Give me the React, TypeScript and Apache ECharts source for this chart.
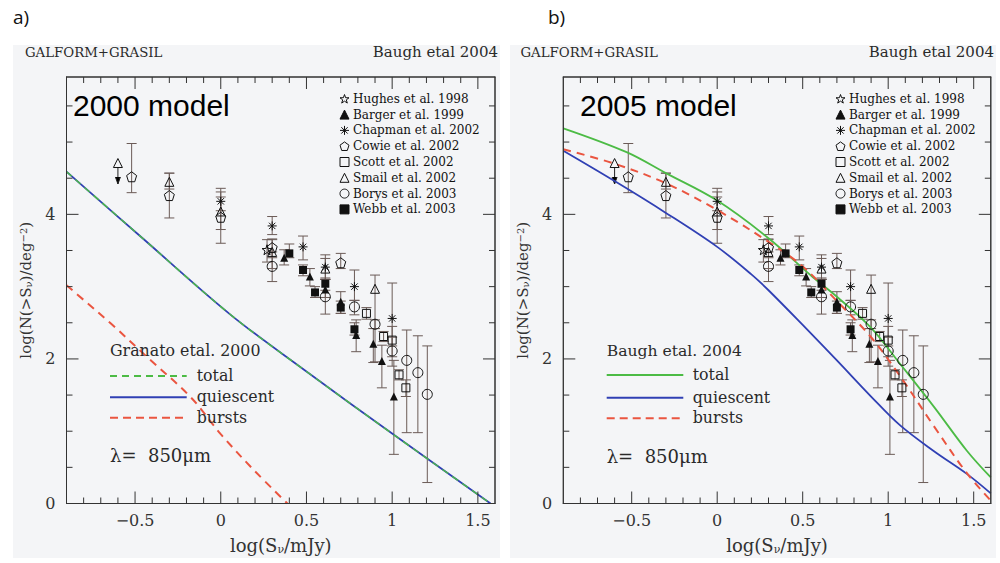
import React, { useEffect, useRef } from 'react';
import * as echarts from 'echarts';

// ---- axis ticks ----
const X_MAJOR = [-0.5, 0, 0.5, 1, 1.5];
const X_MINOR = [-0.8, -0.7, -0.6, -0.4, -0.3, -0.2, -0.1, 0.1, 0.2, 0.3, 0.4, 0.6, 0.7, 0.8, 0.9, 1.1, 1.2, 1.3, 1.4];
const Y_MAJOR = [0, 2, 4];
const Y_MINOR = [0.5, 1, 1.5, 2.5, 3, 3.5, 4.5, 5, 5.5];

// ---- observations: [logS, logN, low, high] ----
const HUGHES = [[0.27, 3.51, 3.34, 3.65]];
const BARGER = [
  [0.37, 3.40, 3.30, 3.51], [0.52, 3.14, 3.01, 3.25], [0.61, 2.96, 2.85, 3.10], [0.70, 2.79, 2.63, 2.93],
  [0.79, 2.33, 2.10, 2.54], [0.89, 2.21, 1.95, 2.42], [0.94, 1.97, 1.60, 2.19], [1.01, 1.48, 0.68, 1.98],
];
const CHAPMAN = [
  [0.0, 4.18, 4.05, 4.31], [0.30, 3.84, 3.72, 3.97], [0.48, 3.55, 3.37, 3.70], [0.61, 3.27, 3.10, 3.44],
  [0.78, 3.00, 2.81, 3.23], [1.0, 2.56, 2.18, 3.05],
];
const COWIE = [
  [-0.52, 4.52, 4.30, 4.98], [-0.30, 4.26, 3.95, 4.57], [0.0, 3.96, 3.60, 4.36], [0.30, 3.54, 3.40, 3.66],
  [0.70, 3.33, 3.25, 3.46],
];
const SCOTT = [
  [0.85, 2.63, 2.55, 2.71], [0.95, 2.31, 2.24, 2.38], [1.0, 2.26, 2.03, 2.45], [1.04, 1.78, 1.71, 1.85],
  [1.08, 1.60, 1.48, 1.71],
];
const SMAIL = [
  [-0.30, 4.45, 4.35, 4.57], [0.0, 4.04, 3.79, 4.24], [0.30, 3.48, 3.25, 3.65], [0.61, 3.25, 3.10, 3.39],
  [0.90, 2.97, 1.96, 3.16],
];
const SMAIL_LIMIT = [[-0.60, 4.71, 4.42]];
const BORYS = [
  [0.30, 3.28, 3.07, 3.48], [0.61, 2.86, 2.62, 3.10], [0.78, 2.72, 2.61, 2.81], [0.90, 2.48, 2.42, 2.54],
  [1.0, 2.11, 1.90, 2.30], [1.085, 1.98, 0.98, 2.40], [1.15, 1.81, 0.98, 2.32], [1.205, 1.51, 0.29, 2.18],
];
const WEBB = [
  [0.40, 3.46, 3.40, 3.59], [0.48, 3.23, 3.15, 3.30], [0.55, 2.92, 2.85, 3.00], [0.61, 3.04, 2.95, 3.12],
  [0.70, 2.71, 2.63, 2.80], [0.78, 2.41, 2.33, 2.50],
];

// ---- models ----
const A_QUIESCENT = [[-0.9, 4.59], [-0.466, 3.69], [0.058, 2.61], [0.486, 1.85], [1.01, 0.95], [1.574, 0]];
const A_TOTAL = [[-0.9, 4.59], [-0.466, 3.69], [0.058, 2.61], [0.486, 1.85], [1.01, 0.95], [1.574, 0]];
const A_BURSTS = [[-0.9, 3.02], [-0.797, 2.81], [-0.641, 2.49], [-0.427, 2.02], [-0.175, 1.47], [0.0, 0.96], [0.194, 0.46], [0.389, 0]];
const B_TOTAL = [[-0.9, 5.19], [-0.53, 4.86], [-0.3, 4.57], [0, 4.19], [0.3, 3.67], [0.56, 3.13], [0.7, 2.86], [0.9, 2.43], [1.07, 1.93], [1.27, 1.33], [1.46, 0.73], [1.6, 0.36]];
const B_QUIESCENT = [[-0.9, 4.88], [-0.6, 4.46], [-0.3, 4.02], [0, 3.55], [0.2, 3.17], [0.3, 2.95], [0.5, 2.47], [0.7, 1.98], [0.9, 1.48], [1.07, 1.08], [1.27, 0.72], [1.46, 0.41], [1.6, 0.14]];
const B_BURSTS = [[-0.9, 4.90], [-0.6, 4.70], [-0.3, 4.43], [0, 4.06], [0.3, 3.62], [0.5, 3.28], [0.7, 2.80], [0.9, 2.30], [1.07, 1.76], [1.27, 1.06], [1.46, 0.42], [1.6, 0.04]];

const SERIF = 'DejaVu Serif';
const SANS = 'Liberation Sans';
const FRAME = '#333333';
const TXT = '#2a2a2a';
const ERR = '#6b5b57';
const GREEN = '#4cbb45';
const BLUE = '#3040b4';
const RED = '#ea5540';
const BG = '#f4f5f7';
const NONE = 'rgba(0,0,0,0)';
const X_MIN = -0.9;
const X_MAX = 1.6;
const Y_MIN = 0;
const Y_MAX = 5.9;

const STAR = 'path://M0,-10L2.35,-3.24L9.51,-3.09L3.8,1.24L5.88,8.09L0,4L-5.88,8.09L-3.8,1.24L-9.51,-3.09L-2.35,-3.24Z';
const PENTA = 'path://M0,-10L9.51,-3.09L5.88,8.09L-5.88,8.09L-9.51,-3.09Z';
const ASTER = 'path://M0,-10L0,10M-10,0L10,0M-7.07,-7.07L7.07,7.07M-7.07,7.07L7.07,-7.07';

const SETS = [
  { name: 'Hughes et al. 1998', data: HUGHES, symbol: STAR, size: 10, filled: false },
  { name: 'Barger et al. 1999', data: BARGER, symbol: 'triangle', size: 8, filled: true },
  { name: 'Chapman et al. 2002', data: CHAPMAN, symbol: ASTER, size: 9, filled: false },
  { name: 'Cowie et al. 2002', data: COWIE, symbol: PENTA, size: 10, filled: false },
  { name: 'Scott et al. 2002', data: SCOTT, symbol: 'rect', size: 8, filled: false },
  { name: 'Smail et al. 2002', data: [...SMAIL, ...SMAIL_LIMIT], symbol: 'triangle', size: 9, filled: false },
  { name: 'Borys et al. 2003', data: BORYS, symbol: 'circle', size: 10, filled: false },
  { name: 'Webb et al. 2003', data: WEBB, symbol: 'rect', size: 8, filled: true },
];

const GRID_A = { left: 66.5, top: 77, width: 428.5, height: 426.5 };
const GRID_B = { left: 563.3, top: 77, width: 427.5, height: 426.5 };

// frame/tick items: [value, kind (0 = x tick, 1 = y tick, 2 = frame), length]
const TICK_ITEMS = [
  [0, 2, 0],
  ...X_MAJOR.map((v) => [v, 0, 12]),
  ...X_MINOR.map((v) => [v, 0, 6]),
  ...Y_MAJOR.map((v) => [v, 1, 12]),
  ...Y_MINOR.map((v) => [v, 1, 6]),
];

const fmt = (v: number) => (v < 0 ? '\u2212' + String(-v) : String(v));

function axesFor(g: number) {
  const xAxis = {
    type: 'value', gridIndex: g, min: X_MIN, max: X_MAX, splitLine: { show: false },
    axisLine: { show: false, onZero: false }, axisTick: { show: false },
    axisLabel: { show: true, customValues: X_MAJOR, formatter: fmt, margin: 9, fontFamily: SERIF, fontSize: 16, color: '#333' },
    name: 'log(S{sub|\u03bd}/mJy)', nameLocation: 'middle', nameGap: 33,
    nameTextStyle: { fontFamily: SERIF, fontSize: 18, color: '#333', rich: { sub: { fontFamily: SERIF, fontSize: 11, color: '#333', verticalAlign: 'bottom' } } },
  };
  const yAxis = {
    type: 'value', gridIndex: g, min: Y_MIN, max: Y_MAX, splitLine: { show: false },
    axisLine: { show: false, onZero: false }, axisTick: { show: false },
    axisLabel: { show: true, customValues: Y_MAJOR, formatter: fmt, margin: 11, fontFamily: SERIF, fontSize: 16, color: '#333' },
    name: 'log(N(>S{sub|\u03bd})/deg{sup|\u22122})', nameLocation: 'middle', nameGap: 33, nameRotate: 90,
    nameTextStyle: {
      fontFamily: SERIF, fontSize: 15, color: '#333',
      rich: {
        sub: { fontFamily: SERIF, fontSize: 10, color: '#333', verticalAlign: 'bottom' },
        sup: { fontFamily: SERIF, fontSize: 10, color: '#333', verticalAlign: 'top' },
      },
    },
  };
  return { xAxis, yAxis };
}

// frame and ticks drawn through the cartesian scale (api.coord), like the error bars
function tickRender(params: any, api: any) {
  const v = api.value(0);
  const kind = api.value(1);
  const len = api.value(2);
  const st = { stroke: FRAME, lineWidth: 1 };
  if (kind === 2) {
    const p0 = api.coord([X_MIN, Y_MIN]);
    const p1 = api.coord([X_MAX, Y_MAX]);
    return {
      type: 'group',
      children: [
        { type: 'line', shape: { x1: p0[0], y1: p0[1], x2: p1[0], y2: p0[1] }, style: st },
        { type: 'line', shape: { x1: p0[0], y1: p1[1], x2: p1[0], y2: p1[1] }, style: st },
        { type: 'line', shape: { x1: p0[0], y1: p0[1], x2: p0[0], y2: p1[1] }, style: st },
        { type: 'line', shape: { x1: p1[0], y1: p0[1], x2: p1[0], y2: p1[1] }, style: st },
      ],
    };
  }
  if (kind === 0) {
    const b = api.coord([v, Y_MIN]);
    const t = api.coord([v, Y_MAX]);
    return {
      type: 'group',
      children: [
        { type: 'line', shape: { x1: b[0], y1: b[1], x2: b[0], y2: b[1] - len }, style: st },
        { type: 'line', shape: { x1: t[0], y1: t[1], x2: t[0], y2: t[1] + len }, style: st },
      ],
    };
  }
  const l = api.coord([X_MIN, v]);
  const r = api.coord([X_MAX, v]);
  return {
    type: 'group',
    children: [
      { type: 'line', shape: { x1: l[0], y1: l[1], x2: l[0] + len, y2: l[1] }, style: st },
      { type: 'line', shape: { x1: r[0], y1: r[1], x2: r[0] - len, y2: r[1] }, style: st },
    ],
  };
}

function errRender(params: any, api: any) {
  const x = api.value(0);
  const p1 = api.coord([x, api.value(1)]);
  const p2 = api.coord([x, api.value(2)]);
  const w = 5;
  const st = { stroke: ERR, lineWidth: 1 };
  return {
    type: 'group',
    children: [
      { type: 'line', shape: { x1: p1[0], y1: p1[1], x2: p2[0], y2: p2[1] }, style: st },
      { type: 'line', shape: { x1: p1[0] - w, y1: p1[1], x2: p1[0] + w, y2: p1[1] }, style: st },
      { type: 'line', shape: { x1: p2[0] - w, y1: p2[1], x2: p2[0] + w, y2: p2[1] }, style: st },
    ],
  };
}

function limitRender(params: any, api: any) {
  const x = api.value(0);
  const p = api.coord([x, api.value(1)]);
  const e = api.coord([x, api.value(2)]);
  const st = { stroke: '#222', lineWidth: 1 };
  return {
    type: 'group',
    children: [
      { type: 'line', shape: { x1: p[0], y1: p[1] + 5, x2: e[0], y2: e[1] }, style: st },
      { type: 'polyline', shape: { points: [[e[0] - 2.5, e[1] - 7], [e[0], e[1]], [e[0] + 2.5, e[1] - 7]] }, style: st },
    ],
  };
}

function seriesFor(g: number, models: any[]) {
  const out: any[] = [];
  const errData: number[][] = [];
  SETS.forEach((s) => s.data.forEach((d) => { if (d.length === 4) errData.push([d[0], d[2], d[3]]); }));
  out.push({
    type: 'custom', xAxisIndex: g, yAxisIndex: g, renderItem: errRender, data: errData,
    encode: { x: 0, y: [1, 2] }, z: 2, silent: true,
  });
  out.push({
    type: 'custom', xAxisIndex: g, yAxisIndex: g, renderItem: limitRender, data: SMAIL_LIMIT,
    encode: { x: 0, y: [1, 2] }, z: 2, silent: true,
  });
  models.forEach((m) => {
    out.push({
      type: 'line', name: m.name, xAxisIndex: g, yAxisIndex: g, data: m.data, smooth: 0.35,
      showSymbol: false, symbol: 'none', z: 3, silent: true,
      lineStyle: { color: m.color, width: m.width, type: m.dash ? m.dash : 'solid' },
    });
  });
  SETS.forEach((s) => {
    out.push({
      type: 'scatter', name: s.name, xAxisIndex: g, yAxisIndex: g, symbol: s.symbol, symbolSize: s.size,
      data: s.data.map((d) => [d[0], d[1]]), z: 5, silent: true,
      itemStyle: { color: s.filled ? '#111' : NONE, borderColor: '#111', borderWidth: s.filled ? 0 : 1, opacity: 1 },
    });
  });
  out.push({
    type: 'custom', xAxisIndex: g, yAxisIndex: g, renderItem: tickRender, data: TICK_ITEMS,
    encode: { x: 0 }, z: 6, silent: true,
  });
  return out;
}

function txt(x: number, y: number, text: string, size: number, family: string, align = 'left', color = TXT) {
  return {
    type: 'text', x, y, z: 10, silent: true,
    style: { text, fontSize: size, fontFamily: family, fill: color, align, verticalAlign: 'middle', textAlign: align, textVerticalAlign: 'middle' },
  };
}

function hline(x1: number, x2: number, y: number, color: string, dash?: number[]) {
  return {
    type: 'line', z: 10, silent: true, shape: { x1, y1: y, x2, y2: y },
    style: { stroke: color, lineWidth: 2, lineDash: dash || null },
  };
}

function white(x: number, y: number, width: number, height: number) {
  return { type: 'rect', z: 0, silent: true, shape: { x, y, width, height }, style: { fill: '#ffffff' } };
}

function frameBars(box: any) {
  const th = 1;
  const l = box.left, t = box.top, r = box.left + box.width, b = box.top + box.height;
  const bar = (x: number, y: number, w: number, h: number) => ({ type: 'rect', z: 10, silent: true, shape: { x, y, width: w, height: h }, style: { fill: FRAME } });
  return [
    bar(l - th / 2, t - th / 2, box.width + th, th),
    bar(l - th / 2, b - th / 2, box.width + th, th),
    bar(l - th / 2, t - th / 2, th, box.height + th),
    bar(r - th / 2, t - th / 2, th, box.height + th),
  ];
}

export default function App() {
  const ref = useRef<HTMLDivElement>(null);
  useEffect(() => {
    if (!ref.current) return;
    const chart = echarts.init(ref.current, undefined, { renderer: 'svg' });
    const A = axesFor(0);
    const B = axesFor(1);
    const names = SETS.map((s) => s.name);
    const legendBase = {
      data: names, orient: 'vertical', padding: 0, itemWidth: 9, itemHeight: 9, itemGap: 3.8, selectedMode: false,
      itemStyle: { borderWidth: 1 },
      textStyle: { fontFamily: SERIF, fontSize: 12, color: '#111', lineHeight: 9, padding: [0, 0, 0, -1] },
    };
    const graphic: any[] = [
      white(0, 0, 1000, 45),
      white(0, 0, 13, 563),
      white(500, 0, 10, 563),
      white(996, 0, 4, 563),
      white(0, 558, 1000, 5),
      ...frameBars(GRID_A),
      ...frameBars(GRID_B),
      txt(13, 17, 'a)', 19, 'Open Sans', 'left', '#111'),
      txt(548, 17, 'b)', 19, 'Open Sans', 'left', '#111'),
      txt(25, 52, 'GALFORM+GRASIL', 13.3, SERIF),
      txt(498, 52, 'Baugh etal 2004', 15, SERIF, 'right'),
      txt(520.5, 52, 'GALFORM+GRASIL', 13.3, SERIF),
      txt(994, 52, 'Baugh etal 2004', 15, SERIF, 'right'),
      txt(73, 105, '2000 model', 30, SANS, 'left', '#000'),
      txt(580, 105, '2005 model', 30, SANS, 'left', '#000'),
      // panel a model key
      txt(110, 350, 'Granato etal. 2000', 15.8, SERIF),
      hline(110, 186.7, 376, GREEN, [7, 5]),
      hline(110, 186.7, 397.3, BLUE),
      hline(110, 186.7, 417.7, RED, [8, 5]),
      txt(196.7, 375, 'total', 15.8, SERIF),
      txt(196.7, 396.5, 'quiescent', 15.8, SERIF),
      txt(196.7, 417, 'bursts', 15.8, SERIF),
      txt(110, 455.7, '\u03bb=  850\u03bcm', 18, SERIF),
      // panel b model key
      txt(606.7, 350.7, 'Baugh etal. 2004', 15.6, SERIF),
      hline(606.7, 683.3, 375, GREEN),
      hline(606.7, 683.3, 397.7, BLUE),
      hline(606.7, 683.3, 418.3, RED, [8, 5]),
      txt(692.7, 374.5, 'total', 15.8, SERIF),
      txt(692.7, 397, 'quiescent', 15.8, SERIF),
      txt(692.7, 417.5, 'bursts', 15.8, SERIF),
      txt(606.7, 456.7, '\u03bb=  850\u03bcm', 18, SERIF),
    ];
    const option: any = {
      animation: false,
      backgroundColor: BG,
      grid: [
        { ...GRID_A, containLabel: false },
        { ...GRID_B, containLabel: false },
      ],
      xAxis: [A.xAxis, B.xAxis],
      yAxis: [A.yAxis, B.yAxis],
      legend: [
        { ...legendBase, left: 339.5, top: 92.8 },
        { ...legendBase, left: 835.5, top: 92.8 },
      ],
      series: [
        ...seriesFor(0, [
          { name: 'quiescent', data: A_QUIESCENT, color: BLUE, width: 1.8 },
          { name: 'total', data: A_TOTAL, color: GREEN, width: 1.4, dash: [7, 5] },
          { name: 'bursts', data: A_BURSTS, color: RED, width: 2, dash: [8, 6] },
        ]),
        ...seriesFor(1, [
          { name: 'total', data: B_TOTAL, color: GREEN, width: 1.8 },
          { name: 'quiescent', data: B_QUIESCENT, color: BLUE, width: 1.8 },
          { name: 'bursts', data: B_BURSTS, color: RED, width: 2, dash: [8, 6] },
        ]),
      ],
      graphic,
    };
    chart.setOption(option);
    return () => chart.dispose();
  }, []);
  return <div ref={ref} style={{ position: 'fixed', left: 0, top: 0, width: 1000, height: 563 }} />;
}
